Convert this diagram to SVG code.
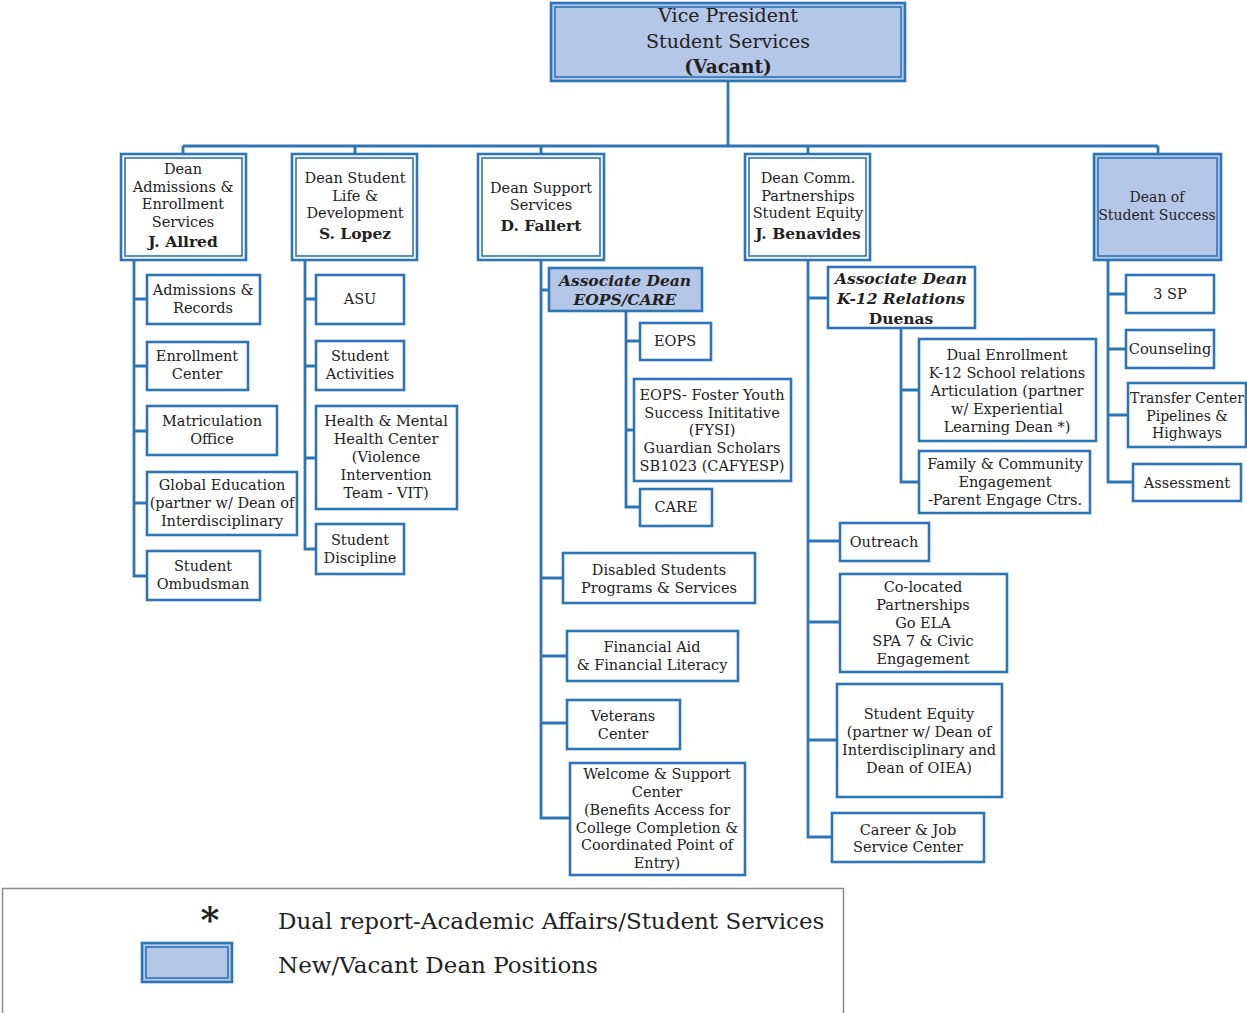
<svg xmlns="http://www.w3.org/2000/svg" width="1247" height="1013" viewBox="0 0 1247 1013">
<style>
text{font-family:"DejaVu Serif","Liberation Serif",serif;fill:#222;text-anchor:middle;dominant-baseline:central}
.t{font-size:14.5px}
.s{font-size:14px}
.b{font-size:15.5px;font-weight:bold}
.bi{font-size:15.5px;font-weight:bold;font-style:italic}
.vp{font-size:19px}
.vpb{font-size:18.5px;font-weight:bold}
.lg{font-size:23px;text-anchor:start}
.box{fill:#fff;stroke:#2E75B6;stroke-width:2.6}
.fbox{fill:#B4C7E7;stroke:#2E75B6;stroke-width:2.6}
.in{fill:none;stroke:#2E75B6;stroke-width:1.6}
.con{fill:none;stroke:#2E75B6;stroke-width:2.8}
</style>
<rect width="1247" height="1013" fill="#fff"/>
<g id="connectors" class="con">
<path d="M728 82V146M183 146H1158M183 146V153M355 146V153M541 146V153M808 146V153M1158 146V153"/>
<path d="M134 261V576H147M134 299H147M134 366H147M134 431H147M134 503H147"/>
<path d="M305 261V549H316M305 299H316M305 366H316M305 458H316"/>
<path d="M541 261V818H570M541 290H549M541 578H563M541 656H567M541 723H567"/>
<path d="M626 311V507H640M626 341H640M626 430H634"/>
<path d="M808 261V837H832M808 298H828M808 541H840M808 622H840M808 740H837"/>
<path d="M901 328V482H919M901 390H919"/>
<path d="M1108 261V482H1133M1108 294H1126M1108 349H1126M1108 415H1128"/>
</g>
<g id="vp">
<rect class="fbox" x="551" y="3" width="354" height="78"/>
<rect class="in" x="555" y="7" width="346" height="70"/>
<text class="vp" x="728" y="15">Vice President</text>
<text class="vp" x="728" y="41">Student Services</text>
<text class="vpb" x="728" y="66">(Vacant)</text>
</g>
<g id="dean-allred">
<rect class="box" x="121" y="154" width="125" height="106"/>
<rect class="in" x="125" y="158" width="117" height="98"/>
<text class="t" x="183" y="169">Dean</text>
<text class="t" x="183" y="187">Admissions &amp;</text>
<text class="t" x="183" y="204">Enrollment</text>
<text class="t" x="183" y="222">Services</text>
<text class="b" x="183" y="241">J. Allred</text>
</g>
<g id="dean-lopez">
<rect class="box" x="292" y="154" width="125" height="106"/>
<rect class="in" x="296" y="158" width="117" height="98"/>
<text class="t" x="355" y="178">Dean Student</text>
<text class="t" x="355" y="196">Life &amp;</text>
<text class="t" x="355" y="213">Development</text>
<text class="b" x="355" y="233">S. Lopez</text>
</g>
<g id="dean-fallert">
<rect class="box" x="478" y="154" width="126" height="106"/>
<rect class="in" x="482" y="158" width="118" height="98"/>
<text class="t" x="541" y="188">Dean Support</text>
<text class="t" x="541" y="205">Services</text>
<text class="b" x="541" y="225">D. Fallert</text>
</g>
<g id="dean-benavides">
<rect class="box" x="745" y="154" width="125" height="106"/>
<rect class="in" x="749" y="158" width="117" height="98"/>
<text class="t" x="808" y="178">Dean Comm.</text>
<text class="t" x="808" y="196">Partnerships</text>
<text class="t" x="808" y="213">Student Equity</text>
<text class="b" x="808" y="233">J. Benavides</text>
</g>
<g id="dean-success">
<rect class="fbox" x="1094" y="154" width="127" height="106"/>
<rect class="in" x="1098" y="158" width="119" height="98"/>
<text class="s" x="1157" y="197">Dean of</text>
<text class="s" x="1157" y="215">Student Success</text>
</g>
<g id="admissions-records"><rect class="box" x="147" y="275" width="113" height="49"/>
<text class="t" x="203" y="290">Admissions &amp;</text><text class="t" x="203" y="308">Records</text></g>
<g id="enrollment-center"><rect class="box" x="147" y="342" width="101" height="48"/>
<text class="t" x="197" y="356">Enrollment</text><text class="t" x="197" y="374">Center</text></g>
<g id="matriculation"><rect class="box" x="147" y="406" width="130" height="49"/>
<text class="t" x="212" y="421">Matriculation</text><text class="t" x="212" y="439">Office</text></g>
<g id="global-education"><rect class="box" x="147" y="472" width="150" height="63"/>
<text class="t" x="222" y="485">Global Education</text><text class="t" x="222" y="503">(partner w/ Dean of</text><text class="t" x="222" y="521">Interdisciplinary</text></g>
<g id="ombudsman"><rect class="box" x="147" y="551" width="113" height="49"/>
<text class="t" x="203" y="566">Student</text><text class="t" x="203" y="584">Ombudsman</text></g>
<g id="asu"><rect class="box" x="316" y="275" width="88" height="49"/>
<text class="t" x="360" y="299">ASU</text></g>
<g id="student-activities"><rect class="box" x="316" y="341" width="88" height="49"/>
<text class="t" x="360" y="356">Student</text><text class="t" x="360" y="374">Activities</text></g>
<g id="health"><rect class="box" x="316" y="406" width="141" height="103"/>
<text class="t" x="386" y="421">Health &amp; Mental</text><text class="t" x="386" y="439">Health Center</text><text class="t" x="386" y="457">(Violence</text><text class="t" x="386" y="475">Intervention</text><text class="t" x="386" y="493">Team - VIT)</text></g>
<g id="discipline"><rect class="box" x="316" y="524" width="88" height="50"/>
<text class="t" x="360" y="540">Student</text><text class="t" x="360" y="558">Discipline</text></g>
<g id="assoc-eops"><rect class="fbox" x="549" y="268" width="153" height="43"/>
<text class="bi" x="625" y="280">Associate Dean</text><text class="bi" x="625" y="299">EOPS/CARE</text></g>
<g id="eops"><rect class="box" x="640" y="323" width="71" height="37"/>
<text class="t" x="675" y="341">EOPS</text></g>
<g id="fysi"><rect class="box" x="634" y="379" width="157" height="102"/>
<text class="t" x="712" y="395">EOPS- Foster Youth</text><text class="t" x="712" y="413">Success Inititative</text><text class="t" x="712" y="430">(FYSI)</text><text class="t" x="712" y="448">Guardian Scholars</text><text class="t" x="712" y="466">SB1023 (CAFYESP)</text></g>
<g id="care"><rect class="box" x="640" y="489" width="72" height="37"/>
<text class="t" x="676" y="507">CARE</text></g>
<g id="dsps"><rect class="box" x="563" y="553" width="192" height="50"/>
<text class="t" x="659" y="570">Disabled Students</text><text class="t" x="659" y="588">Programs &amp; Services</text></g>
<g id="financial-aid"><rect class="box" x="567" y="631" width="171" height="50"/>
<text class="t" x="652" y="647">Financial Aid</text><text class="t" x="652" y="665">&amp; Financial Literacy</text></g>
<g id="veterans"><rect class="box" x="567" y="700" width="113" height="49"/>
<text class="t" x="623" y="716">Veterans</text><text class="t" x="623" y="734">Center</text></g>
<g id="welcome"><rect class="box" x="570" y="763" width="175" height="112"/>
<text class="t" x="657" y="774">Welcome &amp; Support</text><text class="t" x="657" y="792">Center</text><text class="t" x="657" y="810">(Benefits Access for</text><text class="t" x="657" y="828">College Completion &amp;</text><text class="t" x="657" y="845">Coordinated Point of</text><text class="t" x="657" y="863">Entry)</text></g>
<g id="assoc-k12"><rect class="box" x="828" y="267" width="147" height="61"/>
<text class="bi" x="901" y="278">Associate Dean</text><text class="bi" x="901" y="298">K-12 Relations</text><text class="b" x="901" y="318">Duenas</text></g>
<g id="dual-enrollment"><rect class="box" x="919" y="339" width="177" height="102"/>
<text class="t" x="1007" y="355">Dual Enrollment</text><text class="t" x="1007" y="373">K-12 School relations</text><text class="t" x="1007" y="391">Articulation (partner</text><text class="t" x="1007" y="409">w/ Experiential</text><text class="t" x="1007" y="427">Learning Dean *)</text></g>
<g id="family"><rect class="box" x="919" y="451" width="171" height="62"/>
<text class="t" x="1005" y="464">Family &amp; Community</text><text class="t" x="1005" y="482">Engagement</text><text class="t" x="1005" y="500">-Parent Engage Ctrs.</text></g>
<g id="outreach"><rect class="box" x="840" y="523" width="89" height="38"/>
<text class="t" x="884" y="542">Outreach</text></g>
<g id="colocated"><rect class="box" x="840" y="574" width="167" height="98"/>
<text class="t" x="923" y="587">Co-located</text><text class="t" x="923" y="605">Partnerships</text><text class="t" x="923" y="623">Go ELA</text><text class="t" x="923" y="641">SPA 7 &amp; Civic</text><text class="t" x="923" y="659">Engagement</text></g>
<g id="student-equity"><rect class="box" x="837" y="684" width="165" height="113"/>
<text class="t" x="919" y="714">Student Equity</text><text class="t" x="919" y="732">(partner w/ Dean of</text><text class="t" x="919" y="750">Interdisciplinary and</text><text class="t" x="919" y="768">Dean of OIEA)</text></g>
<g id="career"><rect class="box" x="832" y="813" width="152" height="49"/>
<text class="t" x="908" y="830">Career &amp; Job</text><text class="t" x="908" y="847">Service Center</text></g>
<g id="3sp"><rect class="box" x="1126" y="275" width="88" height="38"/>
<text class="t" x="1170" y="294">3 SP</text></g>
<g id="counseling"><rect class="box" x="1126" y="330" width="88" height="38"/>
<text class="t" x="1170" y="349">Counseling</text></g>
<g id="transfer"><rect class="box" x="1128" y="383" width="118" height="64"/>
<text class="s" x="1187" y="398">Transfer Center</text><text class="s" x="1187" y="416">Pipelines &amp;</text><text class="s" x="1187" y="433">Highways</text></g>
<g id="assessment"><rect class="box" x="1133" y="464" width="108" height="37"/>
<text class="t" x="1187" y="483">Assessment</text></g>
<g id="legend">
<rect x="2.5" y="888.5" width="841" height="140" fill="#fff" stroke="#8c8c8c" stroke-width="1.5"/>
<text x="210" y="919" style="font-size:36px;font-weight:bold">*</text>
<text class="lg" x="278" y="921">Dual report-Academic Affairs/Student Services</text>
<rect class="fbox" x="142" y="943" width="90" height="39"/>
<rect class="in" x="146" y="947" width="82" height="31"/>
<text class="lg" x="278" y="965">New/Vacant Dean Positions</text>
</g>
</svg>
